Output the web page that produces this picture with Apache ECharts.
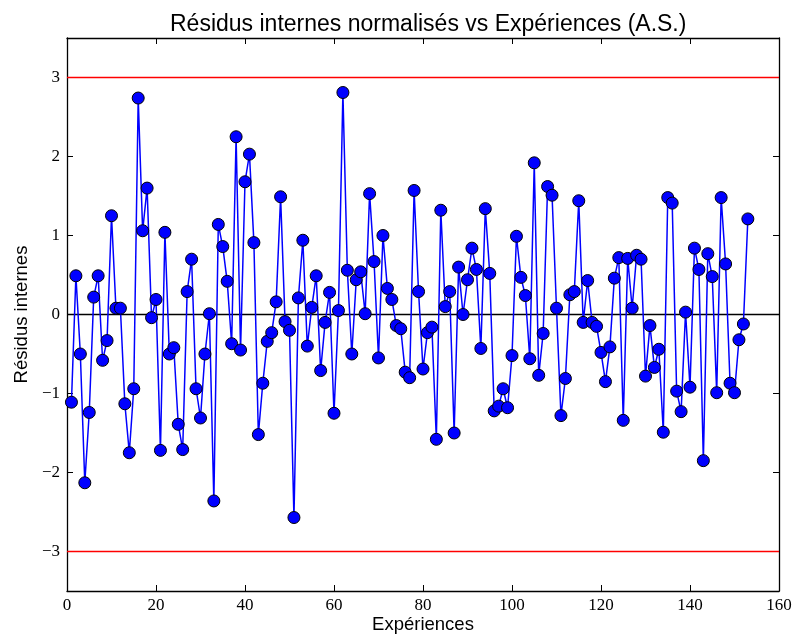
<!DOCTYPE html>
<html><head><meta charset="utf-8">
<script src="https://cdn.jsdelivr.net/npm/echarts@6/dist/echarts.min.js"></script>
<style>html,body{margin:0;padding:0;background:#fff;overflow:hidden}#c{width:797px;height:635px}</style>
</head><body><div id="c"></div>
<script>
const residuals = [
 -1.11, 0.49, -0.50, -2.13, -1.24, 0.22, 0.49, -0.58, -0.33, 1.25,
 0.08, 0.08, -1.13, -1.75, -0.94, 2.74, 1.06, 1.60, -0.04, 0.19,
 -1.72, 1.04, -0.50, -0.42, -1.39, -1.71, 0.29, 0.70, -0.94, -1.31,
 -0.50, 0.01, -2.36, 1.14, 0.86, 0.42, -0.37, 2.25, -0.45, 1.68,
 2.03, 0.91, -1.52, -0.87, -0.34, -0.23, 0.16, 1.49, -0.09, -0.20,
 -2.57, 0.21, 0.94, -0.40, 0.09, 0.49, -0.71, -0.10, 0.28, -1.25,
 0.05, 2.81, 0.56, -0.50, 0.44, 0.54, 0.01, 1.53, 0.67, -0.55,
 1.00, 0.33, 0.19, -0.14, -0.18, -0.73, -0.80, 1.57, 0.29, -0.69,
 -0.23, -0.16, -1.58, 1.32, 0.10, 0.29, -1.50, 0.60, 0.00, 0.44,
 0.84, 0.57, -0.43, 1.34, 0.52, -1.22, -1.16, -0.94, -1.18, -0.52,
 0.99, 0.47, 0.24, -0.56, 1.92, -0.77, -0.24, 1.62, 1.51, 0.08,
 -1.28, -0.81, 0.25, 0.29, 1.44, -0.10, 0.43, -0.10, -0.15, -0.48,
 -0.85, -0.41, 0.46, 0.72, -1.34, 0.71, 0.08, 0.75, 0.70, -0.78,
 -0.14, -0.67, -0.44, -1.49, 1.48, 1.41, -0.97, -1.23, 0.03, -0.92,
 0.84, 0.57, -1.85, 0.77, 0.48, -0.99, 1.48, 0.64, -0.87, -0.99,
 -0.32, -0.12, 1.21
];
const experiences = residuals.map((_, i) => i + 1);
const yTicks = [-3, -2, -1, 0, 1, 2, 3];
const limits = [3, -3];

const data = experiences.map((x, i) => [x, residuals[i]]);
const fmt = v => String(v).replace('-', '\u2212');
const tickFont = {fontFamily: 'Liberation Serif', fontSize: 17, color: '#000'};
const frame = {onZero: false, lineStyle: {color: '#000', width: 1.3}};
const tick = {inside: true, length: 6, lineStyle: {color: '#000', width: 1}};
const chart = echarts.init(document.getElementById('c'), null, {renderer: 'canvas', width: 797, height: 635});
chart.setOption({
  animation: false,
  backgroundColor: '#fff',
  title: {text: 'Résidus internes normalisés vs Expériences (A.S.)', left: 165, top: 8,
    textStyle: {fontFamily: 'Liberation Sans', fontSize: 23, fontWeight: 'normal', color: '#000'}},
  grid: {left: 67, width: 712, top: 38, height: 553, outerBoundsMode: 'none', containLabel: false},
  xAxis: [
    {type: 'value', min: 0, max: 160, interval: 20, position: 'bottom',
     name: 'Expériences', nameLocation: 'middle', nameGap: 24, nameMoveOverlap: false,
     nameTextStyle: {fontFamily: 'Liberation Sans', fontSize: 18.5, color: '#000'},
     axisLine: frame, axisTick: tick,
     axisLabel: Object.assign({margin: 6}, tickFont),
     splitLine: {show: false}},
    {type: 'value', min: 0, max: 160, interval: 20, position: 'top',
     axisLine: frame, axisTick: tick,
     axisLabel: {show: false}, splitLine: {show: false}}
  ],
  yAxis: [
    {type: 'value', min: -3.5, max: 3.5, position: 'left',
     name: 'Résidus internes', nameLocation: 'middle', nameGap: 36, nameRotate: 90, nameMoveOverlap: false,
     nameTextStyle: {fontFamily: 'Liberation Sans', fontSize: 18.5, color: '#000'},
     axisLine: frame, axisTick: Object.assign({customValues: yTicks}, tick),
     axisLabel: Object.assign({margin: 7, formatter: fmt, customValues: yTicks}, tickFont),
     splitLine: {show: false}},
    {type: 'value', min: -3.5, max: 3.5, position: 'right',
     axisLine: frame, axisTick: Object.assign({customValues: yTicks}, tick),
     axisLabel: {show: false, customValues: yTicks}, splitLine: {show: false}}
  ],
  series: [
    {type: 'line', data: [[0, 0], [160, 0]], symbol: 'none', silent: true,
     lineStyle: {color: '#000', width: 1.3}, z: 1},
    {type: 'line', data: [[0, limits[0]], [160, limits[0]]], symbol: 'none', silent: true,
     lineStyle: {color: '#ff0000', width: 1.6}, z: 1},
    {type: 'line', data: [[0, limits[1]], [160, limits[1]]], symbol: 'none', silent: true,
     lineStyle: {color: '#ff0000', width: 1.6}, z: 1},
    {type: 'line', data: data, symbol: 'circle', symbolSize: 12, showAllSymbol: true,
     lineStyle: {color: '#0000ff', width: 1.5},
     itemStyle: {color: '#0000ff', borderColor: '#000', borderWidth: 1}, z: 3}
  ]
});
</script></body></html>
